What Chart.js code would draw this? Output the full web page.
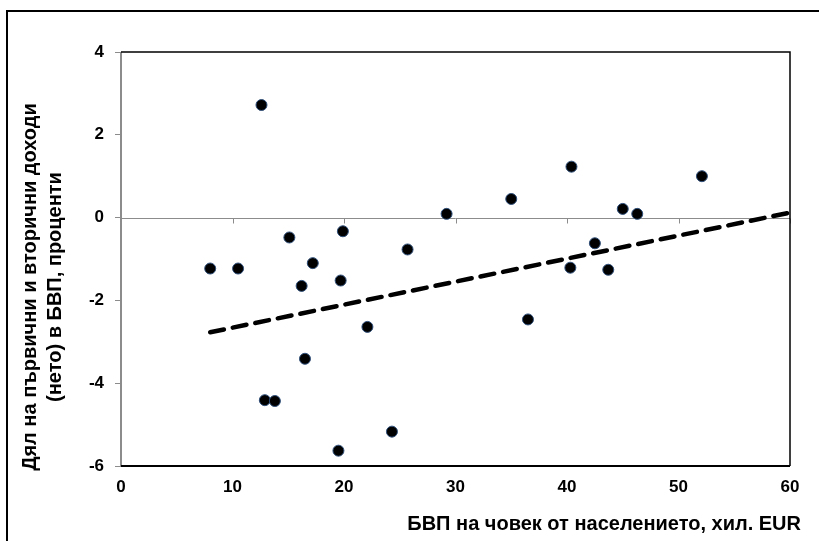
<!DOCTYPE html>
<html>
<head>
<meta charset="utf-8">
<script src="https://cdn.jsdelivr.net/npm/chart.js@4"></script>
<style>
  html, body { margin: 0; padding: 0; background: #fff; }
  #wrap { width: 819px; height: 541px; position: relative; }
</style>
</head>
<body>
<div id="wrap"><canvas id="chart" width="819" height="541"></canvas></div>
<script>
// GDP per capita (thousand EUR) and net primary + secondary income (% of GDP)
const gdpPerCapita = [12.6, 8.0, 10.5, 15.1, 19.9, 17.2, 16.2, 19.7, 25.7, 22.1, 16.5, 12.9, 13.8, 24.3, 19.5,
                      29.2, 35.0, 40.4, 52.1, 45.0, 46.3, 42.5, 40.3, 43.7, 36.5];
const incomeShare = [2.72, -1.23, -1.23, -0.48, -0.33, -1.10, -1.65, -1.52, -0.77, -2.64, -3.41, -4.41, -4.43, -5.17, -5.63,
                     0.09, 0.45, 1.23, 1.00, 0.21, 0.09, -0.62, -1.21, -1.26, -2.46];
const trendX = [8, 60];
const trendY = [-2.77, 0.12];
const xTicks = [0, 10, 20, 30, 40, 50, 60];
const yTicks = [-6, -4, -2, 0, 2, 4];

const yTitle = ["Дял на първични и вторични доходи", "(нето) в БВП, проценти"];
const xTitle = "БВП на човек от населението, хил. EUR";

const FONT = "'Liberation Sans', Arial, sans-serif";

// Frame, zero line, x ticks on the zero line and axis titles
const decor = {
  id: "decor",
  beforeDatasetsDraw(chart) {
    const { ctx, chartArea: a, scales } = chart;
    const y0 = Math.round(scales.y.getPixelForValue(0)) + 0.5;
    ctx.save();
    ctx.strokeStyle = "#8c8c8c";
    ctx.lineWidth = 1;
    ctx.beginPath();
    ctx.moveTo(a.left, y0);
    ctx.lineTo(a.right, y0);
    xTicks.forEach(function (v) {
      const px = Math.round(scales.x.getPixelForValue(v)) + 0.5;
      ctx.moveTo(px, y0);
      ctx.lineTo(px, y0 + 5);
    });
    ctx.stroke();
    ctx.restore();
  },
  afterDraw(chart) {
    const { ctx, chartArea: a } = chart;
    ctx.save();
    // plot frame: gray left, black top/right/bottom
    ctx.strokeStyle = "#8c8c8c";
    ctx.lineWidth = 2;
    ctx.beginPath();
    ctx.moveTo(a.left, a.top);
    ctx.lineTo(a.left, a.bottom);
    ctx.stroke();
    ctx.strokeStyle = "#000";
    ctx.lineWidth = 1.5;
    ctx.beginPath();
    ctx.moveTo(a.left, a.top);
    ctx.lineTo(a.right, a.top);
    ctx.lineTo(a.right, a.bottom);
    ctx.stroke();
    ctx.lineWidth = 2;
    ctx.beginPath();
    ctx.moveTo(a.left, a.bottom);
    ctx.lineTo(a.right, a.bottom);
    ctx.stroke();

    // outer border
    ctx.lineWidth = 2;
    ctx.beginPath();
    ctx.moveTo(7, 545);
    ctx.lineTo(7, 11);
    ctx.lineTo(825, 11);
    ctx.stroke();

    // titles
    ctx.fillStyle = "#000";
    ctx.font = "bold 20px " + FONT;
    ctx.textAlign = "right";
    ctx.textBaseline = "middle";
    ctx.fillText(xTitle, 801, 524);

    ctx.save();
    ctx.translate(30, 287);
    ctx.rotate(-Math.PI / 2);
    ctx.textAlign = "center";
    ctx.fillText(yTitle[0], 0, 0);
    ctx.fillText(yTitle[1], 0, 25);
    ctx.restore();
    ctx.restore();
  }
};

new Chart(document.getElementById("chart"), {
  type: "scatter",
  data: {
    datasets: [
      {
        label: "countries",
        data: gdpPerCapita.map(function (x, i) { return { x: x, y: incomeShare[i] }; }),
        backgroundColor: "#000",
        borderColor: "#2f4f7a",
        borderWidth: 1,
        pointRadius: 5.5,
        order: 1
      },
      {
        label: "trend",
        type: "line",
        data: trendX.map(function (x, i) { return { x: x, y: trendY[i] }; }),
        borderColor: "#000",
        borderWidth: 4.5,
        borderDash: [14, 9],
        borderCapStyle: "round",
        pointRadius: 0,
        fill: false,
        order: 2
      }
    ]
  },
  options: {
    responsive: false,
    animation: false,
    layout: { padding: { left: 0, top: 52, right: 29, bottom: 0 } },
    plugins: {
      legend: { display: false },
      tooltip: { enabled: false }
    },
    scales: {
      x: {
        type: "linear",
        min: 0,
        max: 60,
        afterBuildTicks(scale) { scale.ticks = xTicks.map(function (v) { return { value: v }; }); },
        afterFit(scale) { scale.height = 75; },
        grid: { display: false, drawTicks: false },
        border: { display: false },
        ticks: {
          color: "#000",
          padding: 11,
          font: { family: FONT, size: 17, weight: "bold" }
        }
      },
      y: {
        type: "linear",
        min: -6,
        max: 4,
        afterBuildTicks(scale) { scale.ticks = yTicks.map(function (v) { return { value: v }; }); },
        afterFit(scale) { scale.width = 121; },
        grid: {
          drawOnChartArea: false,
          drawTicks: true,
          tickLength: 6,
          tickColor: "#8c8c8c"
        },
        border: { display: false },
        ticks: {
          color: "#000",
          padding: 11,
          font: { family: FONT, size: 17, weight: "bold" }
        }
      }
    }
  },
  plugins: [decor]
});
</script>
</body>
</html>
